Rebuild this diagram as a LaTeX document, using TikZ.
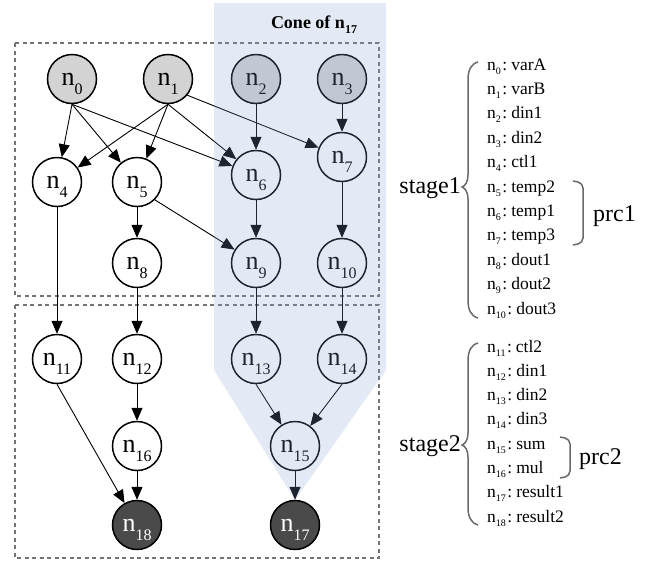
\documentclass[tikz,border=0pt]{standalone}
\usepackage{fontspec}
\setmainfont{Liberation Serif}
\usetikzlibrary{arrows.meta}
\definecolor{conec}{RGB}{135,163,211}
\definecolor{lightin}{RGB}{211,211,211}
\definecolor{darkout}{RGB}{74,74,74}
\definecolor{brcol}{RGB}{105,105,105}
\definecolor{dashcol}{RGB}{115,115,115}
\newcommand{\nsub}[1]{n\raisebox{-9pt}{\fontsize{16}{16}\selectfont #1}}
\newcommand{\lsub}[1]{n\raisebox{-4pt}{\fontsize{10}{10}\selectfont #1}\hspace{1.5pt}:\hspace{4pt}}
\begin{document}
\begin{tikzpicture}[x=1pt,y=-1pt,
  nd/.style={circle,draw,line width=1.5pt,minimum size=49pt,inner sep=0pt,fill=white,
    text height=18pt,text depth=6pt,font=\fontsize{26}{26}\selectfont},
  gin/.style={nd,fill=lightin},
  gout/.style={nd,fill=darkout,text=white},
  edge/.style={line width=0.9pt,-{Triangle[length=13pt,width=11pt]}},
  box/.style={draw=dashcol,line width=1.3pt,dash pattern=on 4pt off 3.5pt},
  lst/.style={anchor=base west,font=\fontsize{17.5}{17.5}\selectfont,inner sep=0pt},
  brc/.style={draw=brcol,line width=1.5pt},
  big/.style={font=\fontsize{24}{24}\selectfont,inner sep=0pt}]
\useasboundingbox (0,0) rectangle (655,563);

% stage boxes
\draw[box] (15,43) rectangle (379,296);
\draw[box] (15,305) rectangle (379,558);

% nodes
\node[gin] (n0) at (72,79) {\nsub{0}};
\node[gin] (n1) at (168,79) {\nsub{1}};
\node[gin] (n2) at (256,79) {\nsub{2}};
\node[gin] (n3) at (342,79) {\nsub{3}};
\node[nd] (n4) at (57,182) {\nsub{4}};
\node[nd] (n5) at (137,182) {\nsub{5}};
\node[nd] (n6) at (256,175) {\nsub{6}};
\node[nd] (n7) at (342,157) {\nsub{7}};
\node[nd] (n8) at (137,263) {\nsub{8}};
\node[nd] (n9) at (256,263) {\nsub{9}};
\node[nd] (n10) at (342,263) {\nsub{10}};
\node[nd] (n11) at (57,359) {\nsub{11}};
\node[nd] (n12) at (137,359) {\nsub{12}};
\node[nd] (n13) at (256,359) {\nsub{13}};
\node[nd] (n14) at (342,359) {\nsub{14}};
\node[nd] (n15) at (295,446) {\nsub{15}};
\node[nd] (n16) at (137,446) {\nsub{16}};
\node[gout] (n17) at (295,525) {\nsub{17}};
\node[gout] (n18) at (137,525) {\nsub{18}};

% edges
\draw[edge] (n0.south) -- (n4);
\draw[edge] (n0.south) -- (n5);
\draw[edge] (n0.south) -- (n6);
\draw[edge] (n1.south) -- (n4);
\draw[edge] (n1.south) -- (n5);
\draw[edge] (n1.south) -- (n6);
\draw[edge] (n1.-40) -- (n7);
\draw[edge] (n2) -- (n6);
\draw[edge] (n3) -- (n7);
\draw[edge] (n4) -- (n11);
\draw[edge] (n5) -- (n8);
\draw[edge] (n5.-45) -- (n9);
\draw[edge] (n6) -- (n9);
\draw[edge] (n7) -- (n10);
\draw[edge] (n8) -- (n12);
\draw[edge] (n9) -- (n13);
\draw[edge] (n10) -- (n14);
\draw[edge] (n11.south) -- (n18);
\draw[edge] (n12) -- (n16);
\draw[edge] (n16) -- (n18);
\draw[edge] (n13.south) -- (n15);
\draw[edge] (n14.south) -- (n15);
\draw[edge] (n15) -- (n17);

% cone overlay
\fill[conec,fill opacity=0.23] (214,3) -- (386,3) -- (386,370) -- (295,500) -- (214,370) -- cycle;
\node[anchor=base,inner sep=0pt,font=\fontsize{18}{18}\selectfont\bfseries] (cone) at (314,28)
  {Cone of n\raisebox{-5pt}{\fontsize{12}{12}\selectfont 17}};

% stage 1 legend
\node[big,anchor=base east] (st1) at (461,193) {stage1};
\draw[brc] (478,62) .. controls (471,64) and (468,70) .. (468,80) -- (468,175)
  .. controls (468,182) and (465,186) .. (462,187) .. controls (465,188) and (468,192) .. (468,199)
  -- (468,300) .. controls (468,310) and (471,316) .. (478,318);
\node[lst] (l0) at (487,70) {\lsub{0}varA};
\node[lst] (l1) at (487,94.4) {\lsub{1}varB};
\node[lst] (l2) at (487,118.8) {\lsub{2}din1};
\node[lst] (l3) at (487,143.2) {\lsub{3}din2};
\node[lst] (l4) at (487,167.6) {\lsub{4}ctl1};
\node[lst] (l5) at (487,192) {\lsub{5}temp2};
\node[lst] (l6) at (487,216.4) {\lsub{6}temp1};
\node[lst] (l7) at (487,240.8) {\lsub{7}temp3};
\node[lst] (l8) at (487,265.2) {\lsub{8}dout1};
\node[lst] (l9) at (487,289.6) {\lsub{9}dout2};
\node[lst] (l10) at (487,314) {\lsub{10}dout3};
\draw[brc,rounded corners=5pt] (573,181) -- (583,183) -- (583,243) -- (573,245);
\node[big,anchor=base west] (p1) at (593,221) {prc1};

% stage 2 legend
\node[big,anchor=base east] (st2) at (461,451) {stage2};
\draw[brc] (478,343) .. controls (471,345) and (468,351) .. (468,361) -- (468,433)
  .. controls (468,440) and (465,444) .. (462,445) .. controls (465,446) and (468,450) .. (468,457)
  -- (468,507) .. controls (468,517) and (471,523) .. (478,525);
\node[lst] (l11) at (487,352) {\lsub{11}ctl2};
\node[lst] (l12) at (487,376.3) {\lsub{12}din1};
\node[lst] (l13) at (487,400.6) {\lsub{13}din2};
\node[lst] (l14) at (487,424.9) {\lsub{14}din3};
\node[lst] (l15) at (487,449.2) {\lsub{15}sum};
\node[lst] (l16) at (487,473.5) {\lsub{16}mul};
\node[lst] (l17) at (487,497.8) {\lsub{17}result1};
\node[lst] (l18) at (487,522.1) {\lsub{18}result2};
\draw[brc,rounded corners=5pt] (560,437) -- (570,439) -- (570,476) -- (560,478);
\node[big,anchor=base west] (p2) at (579,464) {prc2};
\end{tikzpicture}
\end{document}
